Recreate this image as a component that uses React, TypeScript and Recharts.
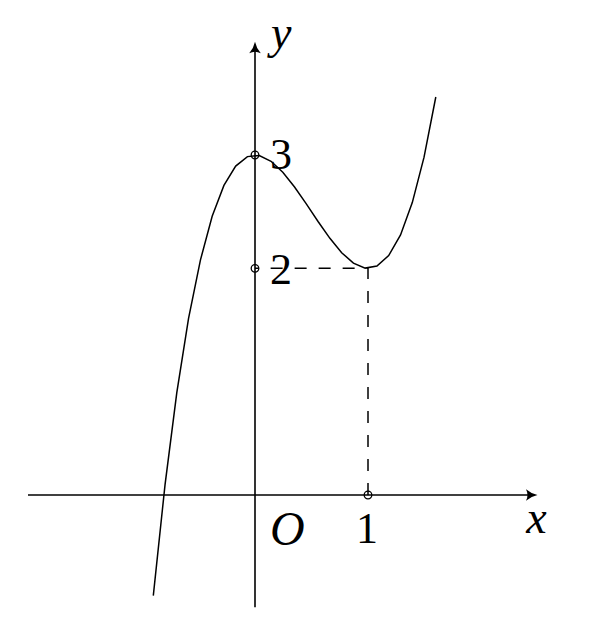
import React from 'react';
import { LineChart, Line, XAxis, YAxis, ReferenceLine, ReferenceDot } from 'recharts';

const curveX = [
  -0.9, -0.796, -0.692, -0.588, -0.483, -0.379, -0.275, -0.171, -0.067, 0.038, 0.142, 0.246, 0.35,
  0.454, 0.558, 0.663, 0.767, 0.871, 0.975, 1.079, 1.183, 1.288, 1.392, 1.496, 1.6,
];
const curveY = [
  -0.888, 0.092, 0.903, 1.559, 2.073, 2.46, 2.732, 2.902, 2.986, 2.996, 2.945, 2.848, 2.718,
  2.569, 2.413, 2.265, 2.138, 2.046, 2.002, 2.02, 2.113, 2.295, 2.58, 2.981, 3.512,
];

// dashed guide: from (1,0) up to (1,2), then left to (0,2)
const guideX = [1, 1, 0];
const guideY = [0, 2, 2];

// small open circles
const markX = [0, 0, 1];
const markY = [3, 2, 0];

// text labels and where they attach
const labelText = ['y', '3', '2', 'O', '1', 'x'];
const labelX = [0, 0, 0, 0, 1, 2.5];
const labelY = [4, 3, 2, 0, 0, 0];

const xDomain = [-2, 2.5];
const yDomain = [-1, 4];

const curveData = curveX.map((x, i) => ({ x, y: curveY[i] }));
const guideData = guideX.map((x, i) => ({ x, y: guideY[i] }));

const labelStyle: Record<string, { dx: number; dy: number; anchor: string; italic: boolean; size: number }> = {
  y: { dx: 16, dy: 6, anchor: 'start', italic: true, size: 46 },
  '3': { dx: 15, dy: 14, anchor: 'start', italic: false, size: 44 },
  '2': { dx: 15, dy: 16, anchor: 'start', italic: false, size: 44 },
  O: { dx: 15, dy: 50, anchor: 'start', italic: true, size: 48 },
  '1': { dx: -1, dy: 48, anchor: 'middle', italic: false, size: 44 },
  x: { dx: -1, dy: 38, anchor: 'middle', italic: true, size: 46 },
};

const ink = '#000';

// arrowhead pointing along (ux, uy) with its tip at (tx, ty)
const arrowPath = (tx: number, ty: number, ux: number, uy: number) => {
  const px = -uy;
  const py = ux;
  const pt = (a: number, b: number) => `${tx + ux * a + px * b},${ty + uy * a + py * b}`;
  return `M${pt(0, 0)} Q${pt(-6, -1.2)} ${pt(-11.5, -5.8)} Q${pt(-8.5, 0)} ${pt(-11.5, 5.8)} Q${pt(-6, 1.2)} ${pt(0, 0)} Z`;
};

const XAxisArrow = (props: any) => {
  const { x1, y1, x2, y2 } = props;
  const right = Math.max(x1, x2);
  const left = Math.min(x1, x2);
  return (
    <g>
      <line x1={left - 1} y1={y1} x2={right - 4} y2={y2} stroke={ink} strokeWidth={1.6} />
      <path d={arrowPath(right, y1, 1, 0)} fill={ink} />
    </g>
  );
};

const YAxisArrow = (props: any) => {
  const { x1, y1, x2, y2 } = props;
  const top = Math.min(y1, y2);
  const bottom = Math.max(y1, y2);
  return (
    <g>
      <line x1={x1} y1={bottom - 1} x2={x2} y2={top + 4} stroke={ink} strokeWidth={1.6} />
      <path d={arrowPath(x1, top, 0, -1)} fill={ink} />
    </g>
  );
};

const LabelShape = (text: string) => (props: any) => {
  const s = labelStyle[text];
  return (
    <text
      x={props.cx + s.dx}
      y={props.cy + s.dy}
      textAnchor={s.anchor}
      fontFamily="'Liberation Serif', 'DejaVu Serif', serif"
      fontStyle={s.italic ? 'italic' : 'normal'}
      fontSize={s.size}
      fill={ink}
    >
      {text}
    </text>
  );
};

const App: React.FC = () => {
  return (
    <div style={{ position: 'absolute', left: 0, top: 0, width: 611, height: 631, background: '#fff' }}>
      <LineChart width={611} height={631} margin={{ top: 41.7, right: 73.5, bottom: 22.7, left: 29 }}>
        <XAxis dataKey="x" type="number" domain={xDomain} allowDataOverflow hide />
        <YAxis type="number" domain={yDomain} allowDataOverflow hide />
        <ReferenceLine y={0} ifOverflow="visible" shape={XAxisArrow} />
        <ReferenceLine x={0} ifOverflow="visible" shape={YAxisArrow} />
        <Line
          data={guideData}
          dataKey="y"
          type="linear"
          stroke={ink}
          strokeWidth={1.5}
          strokeDasharray="12 12"
          dot={false}
          activeDot={false}
          isAnimationActive={false}
        />
        <Line
          data={curveData}
          dataKey="y"
          type="linear"
          stroke={ink}
          strokeWidth={1.5}
          dot={false}
          activeDot={false}
          isAnimationActive={false}
        />
        {markX.map((x, i) => (
          <ReferenceDot
            key={`m-${i}`}
            x={x}
            y={markY[i]}
            r={3.8}
            fill="none"
            stroke={ink}
            strokeWidth={1.3}
            ifOverflow="visible"
          />
        ))}
        {labelText.map((t, i) => (
          <ReferenceDot
            key={`l-${i}`}
            x={labelX[i]}
            y={labelY[i]}
            r={0}
            ifOverflow="visible"
            shape={LabelShape(t)}
          />
        ))}
      </LineChart>
    </div>
  );
};

export default App;
